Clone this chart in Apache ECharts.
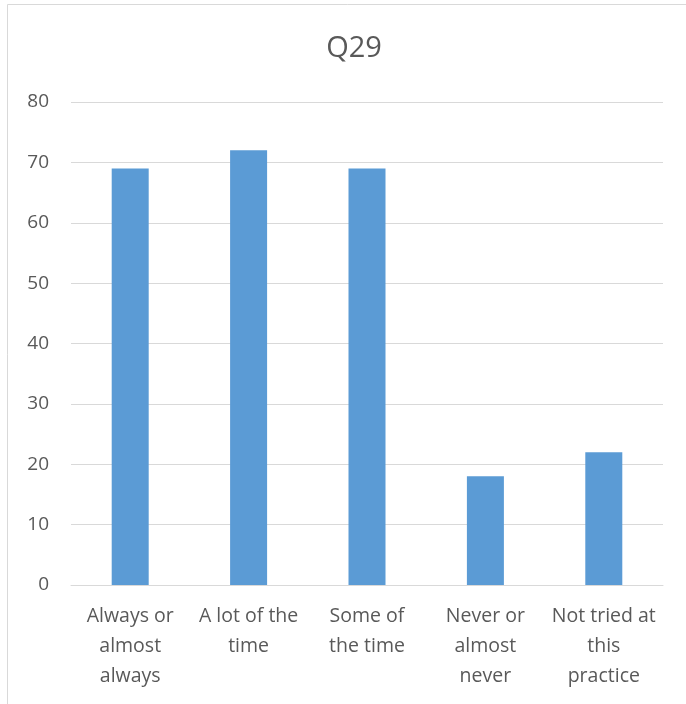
<!DOCTYPE html>
<html>
<head>
<meta charset="utf-8">
<script src="https://cdn.jsdelivr.net/npm/echarts@6/dist/echarts.min.js"></script>
<style>
  html, body { margin: 0; padding: 0; background: #fff; }
  #chart { width: 686px; height: 704px; }
</style>
</head>
<body>
<div id="chart"></div>
<script>
// Survey responses for question 29
const chartTitle = 'Q29';
const categories = [
  'Always or\nalmost\nalways',
  'A lot of the\ntime',
  'Some of\nthe time',
  'Never or\nalmost\nnever',
  'Not tried at\nthis\npractice'
];
const counts = [69, 72, 69, 18, 22];
const yTicks = { min: 0, max: 80, interval: 10 };

const textColor = '#595959';
const fontFamily = '"Open Sans", "Noto Sans", "Liberation Sans", sans-serif';

const chart = echarts.init(document.getElementById('chart'), null, { renderer: 'canvas' });
chart.setOption({
  animation: false,
  backgroundColor: '#ffffff',
  graphic: [{
    type: 'rect',
    shape: { x: 7.5, y: 4.5, width: 700, height: 720 },
    style: { fill: 'none', stroke: '#d9d9d9', lineWidth: 1 },
    silent: true
  }],
  title: {
    text: chartTitle,
    left: 349,
    textAlign: 'center',
    top: 29,
    textStyle: { color: textColor, fontSize: 29, fontWeight: 'normal', fontFamily }
  },
  grid: { left: 71, right: 23, top: 102, bottom: 119, containLabel: false },
  xAxis: {
    type: 'category',
    data: categories,
    axisLine: { lineStyle: { color: '#d9d9d9', width: 1 } },
    axisTick: { show: false },
    axisLabel: {
      color: textColor, fontSize: 19.5, fontFamily,
      lineHeight: 30, margin: 16, interval: 0
    }
  },
  yAxis: {
    type: 'value',
    min: yTicks.min, max: yTicks.max, interval: yTicks.interval,
    axisLine: { show: false },
    axisTick: { show: false },
    axisLabel: { color: textColor, fontSize: 19, fontFamily, margin: 22 },
    splitLine: { lineStyle: { color: '#d9d9d9', width: 1 } }
  },
  series: [{
    type: 'bar',
    data: counts,
    barWidth: 37,
    itemStyle: { color: '#5b9bd5' }
  }]
});
</script>
</body>
</html>
